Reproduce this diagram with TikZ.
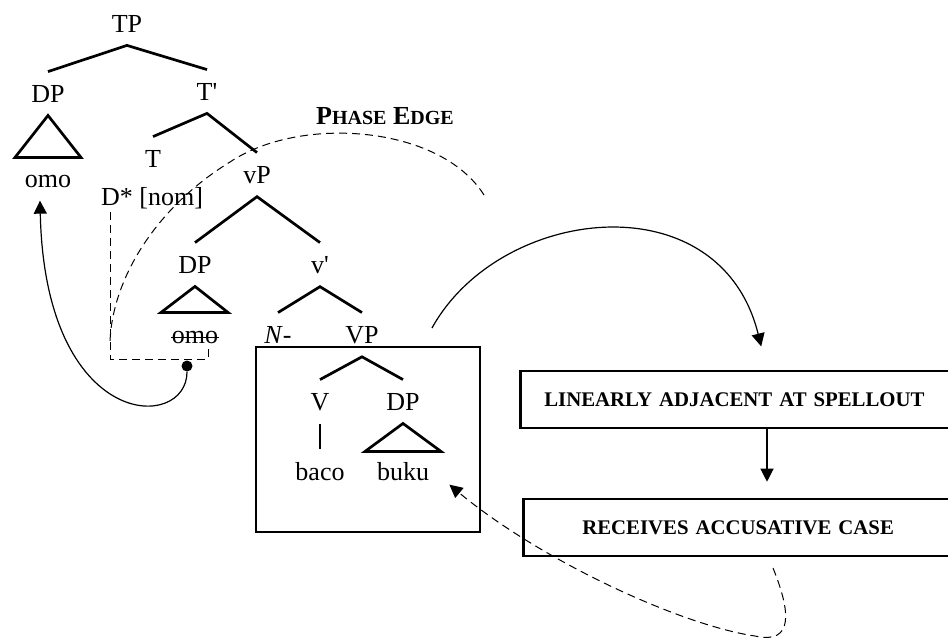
\documentclass[tikz,border=0pt]{standalone}
\usepackage{fontspec}
\setmainfont{Liberation Serif}
\usetikzlibrary{arrows.meta}
\newcommand\mainsize{\fontsize{13}{15}\selectfont}
\newcommand\boxsize{\fontsize{10.4}{12}\selectfont}
\newcommand\capfake[2]{#1{\fontsize{10}{12}\selectfont #2}}

\begin{document}
\begin{tikzpicture}[x=0.5pt,y=-0.5pt,
    cat/.style={anchor=base,inner xsep=1pt,inner ysep=6.5pt,font=\mainsize},
    branch/.style={line width=1.35pt},
    tri/.style={line width=1.35pt,line join=miter},
    dsh/.style={line width=0.5pt,dash pattern=on 4pt off 2.5pt},
    tip/.style={-{Triangle[width=6.5pt,length=6.5pt]}},
    flowbox/.style={draw,line width=1.3pt,anchor=west,minimum height=28.5pt,align=left,font=\boxsize\bfseries},
    hinge/.style={circle,fill,inner sep=0pt,minimum size=5.5pt}]
  \useasboundingbox (0,0) rectangle (948,639);
  \clip (0,0) rectangle (948,639);
  % tree
  \node[cat] (tp) at (127,32) {TP};
  \node[cat] (dpa) at (48,102) {DP};
  \node[cat] (tbar) at (207,100) {T\textquotesingle};
  \node[cat] (omoa) at (48,187) {omo};
  \node[cat] (t) at (153,167) {T};
  \node[cat] (dnom) at (152,205) {D* [nom]};
  \node[cat] (vp) at (257,183) {vP};
  \node[cat] (dpb) at (195,273) {DP};
  \node[cat] (vbar) at (320,273) {v\textquotesingle};
  \node[cat] (omob) at (195,343) {omo};
  \node[cat] (nn) at (278,343) {\textit{N}-};
  \node[cat] (bigvp) at (362,343) {VP};
  \node[cat] (v) at (320,410) {V};
  \node[cat] (dpc) at (403,410) {DP};
  \node[cat] (baco) at (320,480) {baco};
  \node[cat] (buku) at (403,480) {buku};
  \draw[line width=0.7pt] ([shift={(1pt,2.9pt)}]omob.base west) -- ([shift={(-1pt,2.9pt)}]omob.base east);
  \draw[branch] (dpa.north) -- (tp.south) -- (tbar.north);
  \draw[branch] (t.north) -- (tbar.south) -- (vp.north);
  \draw[branch] (dpb.north) -- (vp.south) -- (vbar.north);
  \draw[branch] (nn.north) -- (vbar.south) -- (bigvp.north);
  \draw[branch] (v.north) -- (bigvp.south) -- (dpc.north);
  \draw[branch] (v.south) -- (baco.north);
  \draw[tri] (dpa.south) -- ++(-33,42) -- ++(66,0) -- cycle;
  \draw[tri] (dpb.south) -- ++(-34,26) -- ++(67,0) -- cycle;
  \draw[tri] (dpc.south) -- ++(-38,28) -- ++(76,0) -- cycle;
  \draw[line width=1.3pt] (256,347) rectangle (480,532);
  % phase edge
  \node[font=\bfseries\fontsize{13}{15}\selectfont] (phase) at (385,116.5) {\capfake{P}{HASE} \capfake{E}{DGE}};
  \draw[dsh] (484,195) .. controls (440,125) and (300,115) .. (230,162)
    .. controls (155,208) and (112,280) .. (110,342);
  % D* link
  \coordinate (dtop) at (110,212);
  \coordinate (otick) at (208,345);
  \coordinate (bbot) at (0,359);
  \draw[dsh] (dtop) -- (dtop |- bbot) -| (otick);
  \node[hinge] (dot) at (187,366) {};
  \draw[tip,line width=0.6pt] (dot) .. controls (187,432) and (45,432) .. ([xshift=-4pt]omoa.south);
  % flow
  \node[flowbox,inner xsep=12pt,text width=240pt] (lin) at (519,399.5) {LINEARLY ADJACENT AT SPELLOUT};
  \node[flowbox,inner xsep=29.5pt,text width=240pt] (rec) at (522,527.5) {RECEIVES ACCUSATIVE CASE};
  \coordinate (colx) at (767,0);
  \coordinate (arcfrom) at (432,328);
  \coordinate (accfrom) at (773,568);
  \draw[tip,line width=0.6pt,shorten >=12pt] (arcfrom) .. controls (500,205) and (720,180) .. (lin.north -| colx);
  \draw[tip,line width=0.6pt,shorten >=8pt] (lin.south -| colx) -- (rec.north -| colx);
  \draw[dsh,tip] (accfrom) .. controls (790,610) and (795,645) .. (755,636)
    .. controls (680,625) and (540,560) .. ([shift={(9pt,4.5pt)}]buku.south east);
\end{tikzpicture}
\end{document}
